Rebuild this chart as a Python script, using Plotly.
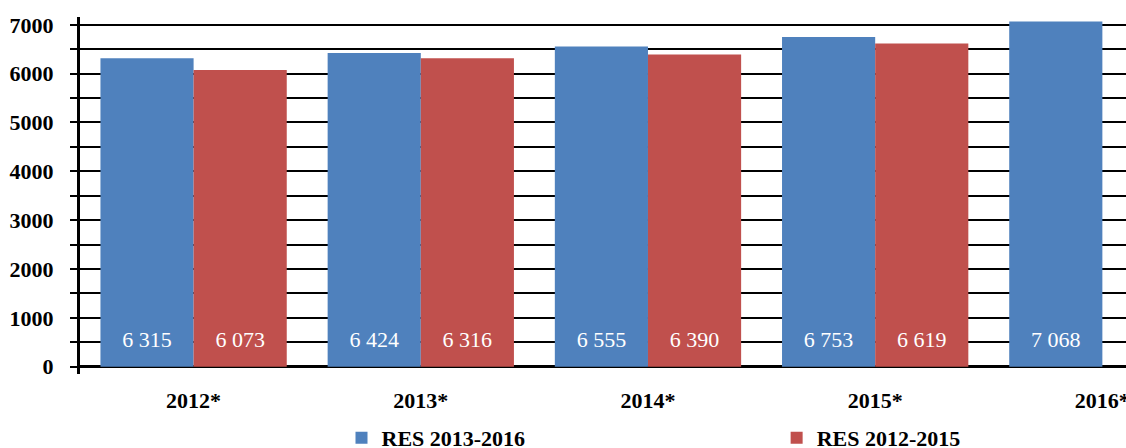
import plotly.graph_objects as go

categories = ["2012*", "2013*", "2014*", "2015*", "2016*"]
res_2013_2016 = [6315, 6424, 6555, 6753, 7068]
res_2012_2015 = [6073, 6316, 6390, 6619]
series_names = ["RES 2013-2016", "RES 2012-2015"]

BLUE = "#4F81BD"
RED = "#C0504D"
LABEL_Y = 520
SERIF = "Liberation Serif"


def fmt(v):
    return f"{v:,}".replace(",", " ")


fig = go.Figure()
fig.add_trace(go.Bar(x=categories[:len(res_2013_2016)], y=res_2013_2016, name=series_names[0],
                     marker=dict(color=BLUE, line=dict(width=0)), legend="legend",
                     offsetgroup="a", hoverinfo="skip"))
fig.add_trace(go.Bar(x=categories[:len(res_2012_2015)], y=res_2012_2015, name=series_names[1],
                     marker=dict(color=RED, line=dict(width=0)), legend="legend2",
                     offsetgroup="b", hoverinfo="skip"))

# value labels placed inside the bars near their base
fig.add_trace(go.Scatter(x=categories[:len(res_2013_2016)], y=[LABEL_Y] * len(res_2013_2016),
                         text=[fmt(v) for v in res_2013_2016], mode="text", offsetgroup="a",
                         textfont=dict(family=SERIF, size=22, color="white"),
                         showlegend=False, hoverinfo="skip"))
fig.add_trace(go.Scatter(x=categories[:len(res_2012_2015)], y=[LABEL_Y] * len(res_2012_2015),
                         text=[fmt(v) for v in res_2012_2015], mode="text", offsetgroup="b",
                         textfont=dict(family=SERIF, size=22, color="white"),
                         showlegend=False, hoverinfo="skip"))

fig.update_layout(
    width=1126, height=448,
    margin=dict(l=80, r=0, t=17, b=74, autoexpand=False),
    paper_bgcolor="white", plot_bgcolor="white",
    barmode="group", bargap=0.18, bargroupgap=0,
    scattermode="group", scattergap=0.18,
    font=dict(family=SERIF, size=22, color="black"),
    xaxis=dict(type="category", range=[-0.5, 4.104], showline=False, showgrid=False,
               ticks="", zeroline=False, automargin=False,
               tickfont=dict(family=SERIF, size=22, color="black", weight="bold"),
               ticklabelstandoff=11),
    yaxis=dict(range=[-150, 7160], dtick=1000, tick0=0, showline=True, linecolor="black",
               linewidth=3, ticks="outside", ticklen=7, tickwidth=2, tickcolor="black",
               showgrid=True, gridcolor="black", gridwidth=2,
               zeroline=True, zerolinecolor="black", zerolinewidth=3,
               tickfont=dict(family=SERIF, size=22, color="black", weight="bold"),
               ticklabelstandoff=12, automargin=False,
               minor=dict(dtick=500, tick0=0, ticks="outside", ticklen=7, tickwidth=2,
                          tickcolor="black", showgrid=True, gridcolor="black", gridwidth=2)),
    legend=dict(orientation="h", x=0.25, y=-0.12, xanchor="left", yanchor="top",
                font=dict(family=SERIF, size=22, color="black", weight="bold"),
                bgcolor="rgba(0,0,0,0)"),
    legend2=dict(orientation="h", x=0.666, y=-0.12, xanchor="left", yanchor="top",
                 font=dict(family=SERIF, size=22, color="black", weight="bold"),
                 bgcolor="rgba(0,0,0,0)"),
)

fig.write_html("out.html")
